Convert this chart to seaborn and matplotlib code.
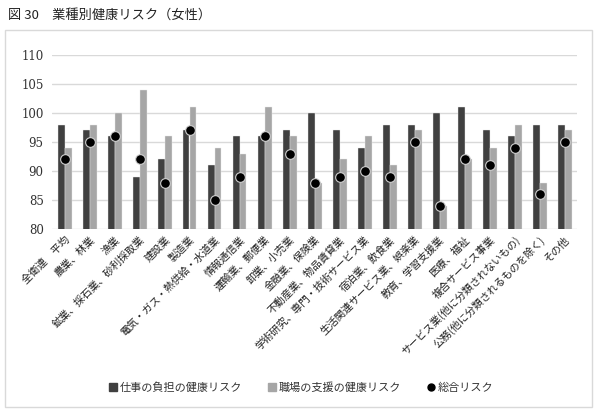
import matplotlib
matplotlib.use("Agg")
import matplotlib.pyplot as plt
from matplotlib.patches import Rectangle
from matplotlib.lines import Line2D
import seaborn as sns
import pandas as pd

categories = [
    "全衛連　平均", "農業、林業", "漁業", "鉱業、採石業、砂利採取業", "建設業", "製造業",
    "電気・ガス・熱供給・水道業", "情報通信業", "運輸業、郵便業", "卸業、小売業",
    "金融業、保険業", "不動産業、物品賃貸業", "学術研究、専門・技術サービス業",
    "宿泊業、飲食業", "生活関連サービス業、娯楽業", "教育、学習支援業", "医療、福祉",
    "複合サービス事業", "サービス業(他に分類されないもの)", "公務(他に分類されるものを除く)", "その他",
]
work_burden = [98, 97, 96, 89, 92, 97, 91, 96, 96, 97, 100, 97, 94, 98, 98, 100, 101, 97, 96, 98, 98]
workplace_support = [94, 98, 100, 104, 96, 101, 94, 93, 101, 96, 88, 92, 96, 91, 97, 84, 92, 94, 98, 88, 97]
total_risk = [92, 95, 96, 92, 88, 97, 85, 89, 96, 93, 88, 89, 90, 89, 95, 84, 92, 91, 94, 86, 95]
series_names = ["仕事の負担の健康リスク", "職場の支援の健康リスク", "総合リスク"]
yticks = [80, 85, 90, 95, 100, 105, 110]
title = "図 30　業種別健康リスク（女性）"

sns.set_theme(style="white")
plt.rcParams["font.family"] = ["Noto Sans CJK JP", "DejaVu Sans"]

df = pd.DataFrame({
    "category": categories * 2,
    "series": [series_names[0]] * len(categories) + [series_names[1]] * len(categories),
    "value": work_burden + workplace_support,
})

fig = plt.figure(figsize=(6.0, 4.16), dpi=100)
fig.patches.append(Rectangle((5 / 600, 1 - 407 / 416), 587 / 600, 377 / 416,
                             transform=fig.transFigure, fill=False,
                             edgecolor="#d9d9d9", linewidth=1.0))
ax = fig.add_axes([52 / 600, 1 - 229 / 416, 525 / 600, 174 / 416])

sns.barplot(data=df, x="category", y="value", hue="series", order=categories,
            hue_order=series_names[:2], palette=["#404040", "#a6a6a6"],
            width=0.56, gap=0, edgecolor="#e8e8e8", linewidth=0.3,
            legend=False, ax=ax, zorder=3)
sns.pointplot(x=categories, y=total_risk, order=categories, color="black",
              linestyle="none", marker="o", markersize=7,
              markeredgecolor="#d0d0d0", markeredgewidth=0.8, errorbar=None,
              ax=ax, zorder=5)
for c in ax.collections:
    c.set_zorder(5)
for l in ax.lines:
    l.set_zorder(5)

ax.set_ylim(80, 110)
ax.set_xlim(-0.5, len(categories) - 0.5)
ax.set_yticks(yticks)
ax.set_yticklabels([str(v) for v in yticks], family="DejaVu Serif", fontsize=8.5, color="#333333")
ax.yaxis.grid(True, color="#d9d9d9", linewidth=1.0, zorder=0)
ax.set_axisbelow(True)
for s in ax.spines.values():
    s.set_visible(False)
ax.tick_params(axis="both", length=0, pad=6)
ax.set_xlabel("")
ax.set_ylabel("")
ax.set_xticks(range(len(categories)))
ax.set_xticklabels(categories, rotation=45, ha="right", rotation_mode="anchor",
                   fontsize=7.5, color="#222222")
ax.tick_params(axis="x", pad=4)

fig.text(8 / 600, 1 - 15 / 416, title, fontsize=9.5, va="center", ha="left", color="#222222")

handles = [
    Line2D([], [], linestyle="none", marker="s", markersize=5.5, color="#404040"),
    Line2D([], [], linestyle="none", marker="s", markersize=5.5, color="#a6a6a6"),
    Line2D([], [], linestyle="none", marker="o", markersize=5, color="black"),
]
fig.legend(handles, series_names, loc="center", bbox_to_anchor=(0.5, 1 - 388 / 416),
           ncol=3, frameon=False, fontsize=8, handletextpad=0.1, columnspacing=2.2,
           handlelength=1.0, labelcolor="#333333")

fig.savefig("out.png", dpi=100)
